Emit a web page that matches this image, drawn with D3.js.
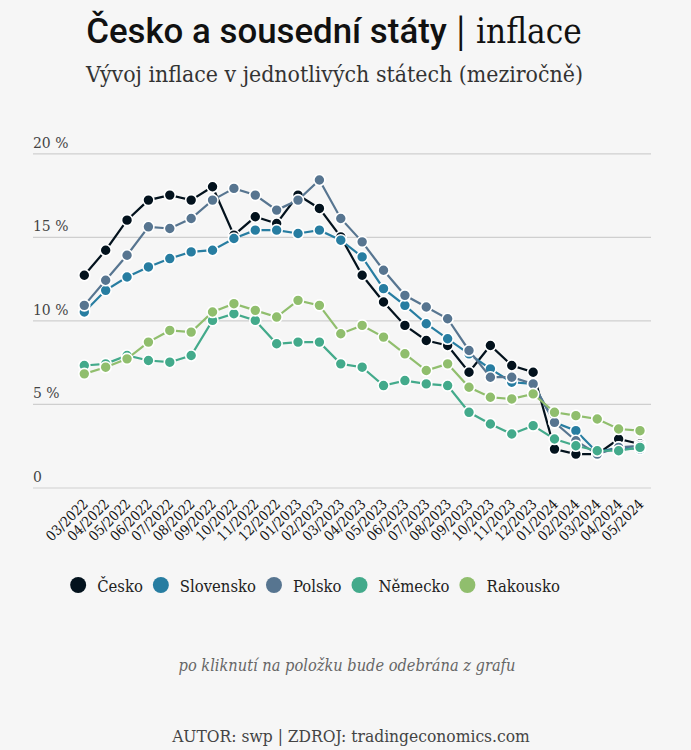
<!DOCTYPE html>
<html><head><meta charset="utf-8">
<script src="https://cdn.jsdelivr.net/npm/d3@7"></script>
<style>
html,body{margin:0;padding:0;background:#f6f6f6;}
svg{display:block;}
</style></head>
<body>
<svg id="chart" width="691" height="750"></svg>
<script>
const months = ["03/2022","04/2022","05/2022","06/2022","07/2022","08/2022","09/2022","10/2022","11/2022","12/2022",
"01/2023","02/2023","03/2023","04/2023","05/2023","06/2023","07/2023","08/2023","09/2023","10/2023","11/2023","12/2023",
"01/2024","02/2024","03/2024","04/2024","05/2024"];
const seriesNames = ["Česko","Slovensko","Polsko","Německo","Rakousko"];
const seriesColors = ["#03121d","#277da1","#577590","#43aa8b","#90be6d"];
const cesko     = [12.7,14.2,16.0,17.2,17.5,17.2,18.0,15.1,16.2,15.8,17.5,16.7,15.0,12.7,11.1,9.7,8.8,8.5,6.9,8.5,7.3,6.9,2.3,2.0,2.0,2.9,2.6];
const slovensko = [10.5,11.8,12.6,13.2,13.7,14.1,14.2,14.9,15.4,15.4,15.2,15.4,14.8,13.8,11.9,10.9,9.8,8.9,8.0,7.1,6.3,6.2,3.9,3.4,2.1,2.4,2.3];
const polsko    = [10.9,12.4,13.9,15.6,15.5,16.1,17.2,17.9,17.5,16.6,17.2,18.4,16.1,14.7,13.0,11.5,10.8,10.1,8.2,6.6,6.6,6.2,3.9,2.8,2.0,2.4,2.5];
const nemecko   = [7.3,7.4,7.9,7.6,7.5,7.9,10.0,10.4,10.0,8.6,8.7,8.7,7.4,7.2,6.1,6.4,6.2,6.1,4.5,3.8,3.2,3.7,2.9,2.5,2.2,2.2,2.4];
const rakousko  = [6.8,7.2,7.7,8.7,9.4,9.3,10.5,11.0,10.6,10.2,11.2,10.9,9.2,9.7,9.0,8.0,7.0,7.4,6.0,5.4,5.3,5.6,4.5,4.3,4.1,3.5,3.4];
const yTicks = [0,5,10,15,20];

const seriesValues = [cesko, slovensko, polsko, nemecko, rakousko];
const SERIF = "'DejaVu Serif', 'Liberation Serif', serif";

const svg = d3.select("#chart");

function fitText(sel, target){
  const node = sel.node();
  const fs = parseFloat(sel.attr("font-size"));
  const w = node.getComputedTextLength();
  sel.attr("font-size", (fs*target/w).toFixed(2));
}

// title
const title = svg.append("text").attr("x",334).attr("y",43).attr("text-anchor","middle")
  .attr("font-size",30).attr("fill","#111");
title.append("tspan").attr("font-family","Roboto, sans-serif").attr("font-weight",500).text("Česko a sousední státy ");
title.append("tspan").attr("font-family",SERIF).attr("font-stretch","condensed").attr("font-weight",300).text("| inflace");
fitText(title, 496);

const sub = svg.append("text").attr("x",334.5).attr("y",82).attr("text-anchor","middle")
  .attr("font-family",SERIF).attr("font-stretch","condensed").attr("font-size",20).attr("fill","#333")
  .text("Vývoj inflace v jednotlivých státech (meziročně)");
fitText(sub, 497);

const x = d3.scalePoint().domain(months).range([84.3, 640]);
const y = d3.scaleLinear().domain([0,20]).range([487.5,153.3]);

// y grid + labels
const yAxis = svg.append("g").attr("transform","translate(33,0)")
  .call(d3.axisLeft(y).tickValues(yTicks).tickSize(-618).tickFormat(d => d===0 ? "0" : d + " %"));
yAxis.select(".domain").remove();
yAxis.selectAll(".tick line").attr("stroke","#cfcfcf").attr("stroke-width",1.2);
yAxis.selectAll(".tick text").attr("x",0).attr("dy",-6).attr("text-anchor","start")
  .attr("font-family",SERIF).attr("font-stretch","condensed").attr("font-size",15.5).attr("fill","#444");

// x axis labels
const xAxis = svg.append("g").attr("transform","translate(0,488)")
  .call(d3.axisBottom(x).tickSize(0));
xAxis.select(".domain").remove();
xAxis.selectAll(".tick text").attr("y",0).attr("dy",0)
  .attr("transform","translate(4,17) rotate(-45)").attr("text-anchor","end")
  .attr("font-family",SERIF).attr("font-stretch","condensed").attr("font-size",14).attr("fill","#111");

// series
const line = d3.line().x((d,i)=>x(months[i])).y(d=>y(d));
seriesValues.forEach((vals, si) => {
  const g = svg.append("g");
  g.append("path").datum(vals).attr("d", line).attr("fill","none")
    .attr("stroke", seriesColors[si]).attr("stroke-width",2.2);
  g.selectAll("circle").data(vals).enter().append("circle")
    .attr("cx",(d,i)=>x(months[i])).attr("cy",d=>y(d)).attr("r",5.5)
    .attr("fill",seriesColors[si]).attr("stroke","#fff").attr("stroke-width",1.6);
});

// legend
const leg = svg.append("g");
let lx = 0;
seriesNames.forEach((name, si) => {
  const it = leg.append("g").attr("transform", `translate(${lx},0)`);
  it.append("circle").attr("cx",8).attr("cy",0).attr("r",8).attr("fill",seriesColors[si]);
  const t = it.append("text").attr("x",27).attr("y",6.5).attr("font-family",SERIF).attr("font-stretch","condensed")
    .attr("font-size",16.5).attr("fill","#222").text(name);
  lx += 27 + t.node().getComputedTextLength() + 10;
});
leg.attr("transform",`translate(${315 - (lx-10)/2},585)`);

const note = svg.append("text").attr("x",347).attr("y",671).attr("text-anchor","middle")
  .attr("font-family",SERIF).attr("font-stretch","condensed").attr("font-style","italic").attr("font-size",15).attr("fill","#666")
  .text("po kliknutí na položku bude odebrána z grafu");
fitText(note, 337);

const foot = svg.append("text").attr("x",351).attr("y",742).attr("text-anchor","middle")
  .attr("font-family",SERIF).attr("font-stretch","condensed").attr("font-size",16).attr("fill","#444")
  .text("AUTOR: swp | ZDROJ: tradingeconomics.com");
fitText(foot, 358);
</script>
</body></html>
